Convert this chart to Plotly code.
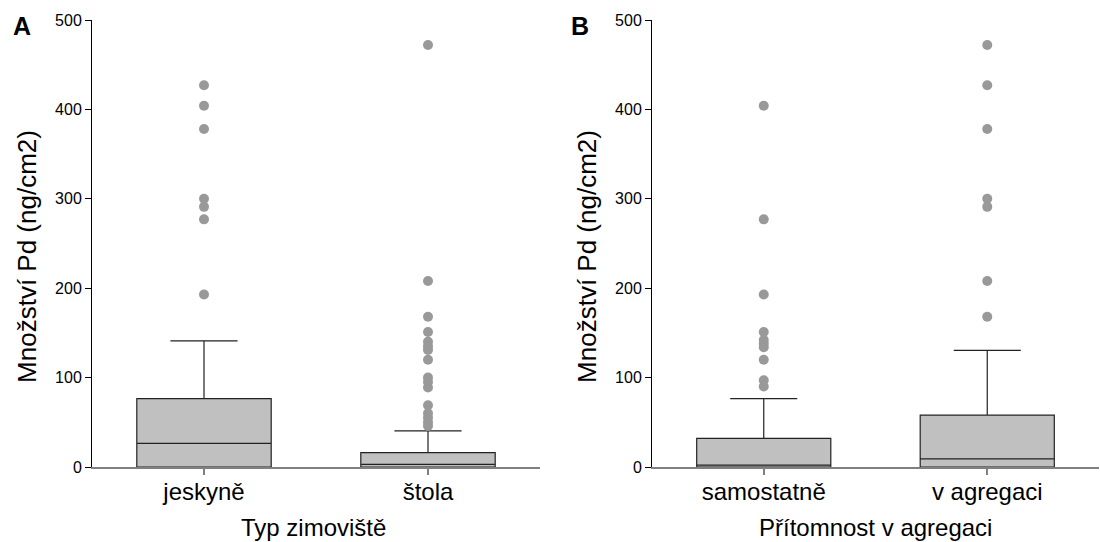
import plotly.graph_objects as go
from plotly.subplots import make_subplots

# Panel A: wintering site type
site_labels = ["jeskyně", "štola"]
site_q1 = [0, 0]
site_median = [26.5, 3]
site_q3 = [76.5, 16]
site_lower = [0, 0]
site_upper = [141, 40.5]
site_outliers = [
    [427, 404, 378, 300, 291, 277, 193],
    [472, 208, 168, 151, 140, 135, 131, 120, 100, 95, 89, 69, 60, 55, 50, 46],
]

# Panel B: presence in aggregation
agg_labels = ["samostatně", "v agregaci"]
agg_q1 = [0, 0]
agg_median = [2, 9]
agg_q3 = [32, 58]
agg_lower = [0, 0]
agg_upper = [76.5, 130.5]
agg_outliers = [
    [404, 277, 193, 151, 142, 138, 134, 120, 97, 90],
    [472, 427, 378, 300, 291, 208, 168],
]

y_ticks = [0, 100, 200, 300, 400, 500]

BOX_FILL = "#c0c0c0"
POINT_COLOR = "#999999"
FONT = "Liberation Sans, Arial, sans-serif"
LABEL_SIZE = 24

fig = make_subplots(rows=1, cols=2)


def add_panel(col, labels, q1, med, q3, lo, hi, outliers):
    for i in range(len(labels)):
        fig.add_trace(
            go.Box(
                x=[i], q1=[q1[i]], median=[med[i]], q3=[q3[i]],
                lowerfence=[lo[i]], upperfence=[hi[i]],
                width=0.6, whiskerwidth=0.5,
                fillcolor=BOX_FILL,
                line=dict(color="#222222", width=1.2),
                boxpoints=False, showlegend=False, hoverinfo="skip",
            ),
            row=1, col=col,
        )
        fig.add_trace(
            go.Scatter(
                x=[i] * len(outliers[i]), y=outliers[i], mode="markers",
                marker=dict(color=POINT_COLOR, size=10, line=dict(width=0)),
                showlegend=False, hoverinfo="skip",
            ),
            row=1, col=col,
        )


add_panel(1, site_labels, site_q1, site_median, site_q3, site_lower, site_upper, site_outliers)
add_panel(2, agg_labels, agg_q1, agg_median, agg_q3, agg_lower, agg_upper, agg_outliers)

xcommon = dict(
    range=[-0.5, 1.5], tickvals=[0, 1], showline=True, linecolor="#808080",
    linewidth=2, ticks="outside", ticklen=6, tickcolor="#808080", tickwidth=1.5,
    showgrid=False, zeroline=False, ticklabelstandoff=-4,
    tickfont=dict(size=LABEL_SIZE, color="black", family=FONT),
)
ycommon = dict(
    range=[0, 500], tickvals=y_ticks, showline=True, linecolor="black",
    linewidth=1, ticks="outside", ticklen=6, tickcolor="black",
    showgrid=False, zeroline=False, tickfont=dict(size=16, color="black", family=FONT),
)

fig.update_layout(
    width=1100, height=542,
    margin=dict(l=0, r=0, t=20, b=75),
    plot_bgcolor="white", paper_bgcolor="white",
    font=dict(family=FONT, color="black"),
    xaxis=dict(domain=[92 / 1100, 540 / 1100], ticktext=site_labels, **xcommon),
    xaxis2=dict(domain=[652 / 1100, 1099 / 1100], ticktext=agg_labels, **xcommon),
    yaxis=dict(**ycommon),
    yaxis2=dict(**ycommon),
)

title_y = (467 - 527) / 447
letter_y = (467 - 26) / 447
annotations = [
    dict(text="<b>A</b>", x=21.5 / 1100, y=letter_y, xref="paper", yref="paper",
         showarrow=False, font=dict(size=25, family=FONT), xanchor="center", yanchor="middle"),
    dict(text="<b>B</b>", x=579.5 / 1100, y=letter_y, xref="paper", yref="paper",
         showarrow=False, font=dict(size=25, family=FONT), xanchor="center", yanchor="middle"),
    dict(text="Množství Pd (ng/cm2)", x=27 / 1100, y=0.47, xref="paper", yref="paper",
         textangle=-90, showarrow=False, font=dict(size=26, family=FONT),
         xanchor="center", yanchor="middle"),
    dict(text="Množství Pd (ng/cm2)", x=587 / 1100, y=0.47, xref="paper", yref="paper",
         textangle=-90, showarrow=False, font=dict(size=26, family=FONT),
         xanchor="center", yanchor="middle"),
    dict(text="Typ zimoviště", x=313 / 1100, y=title_y, xref="paper", yref="paper",
         showarrow=False, font=dict(size=LABEL_SIZE, family=FONT), xanchor="center", yanchor="middle"),
    dict(text="Přítomnost v agregaci", x=875 / 1100, y=title_y, xref="paper", yref="paper",
         showarrow=False, font=dict(size=LABEL_SIZE, family=FONT), xanchor="center", yanchor="middle"),
]
fig.update_layout(annotations=annotations)

fig.write_html("out.html")
